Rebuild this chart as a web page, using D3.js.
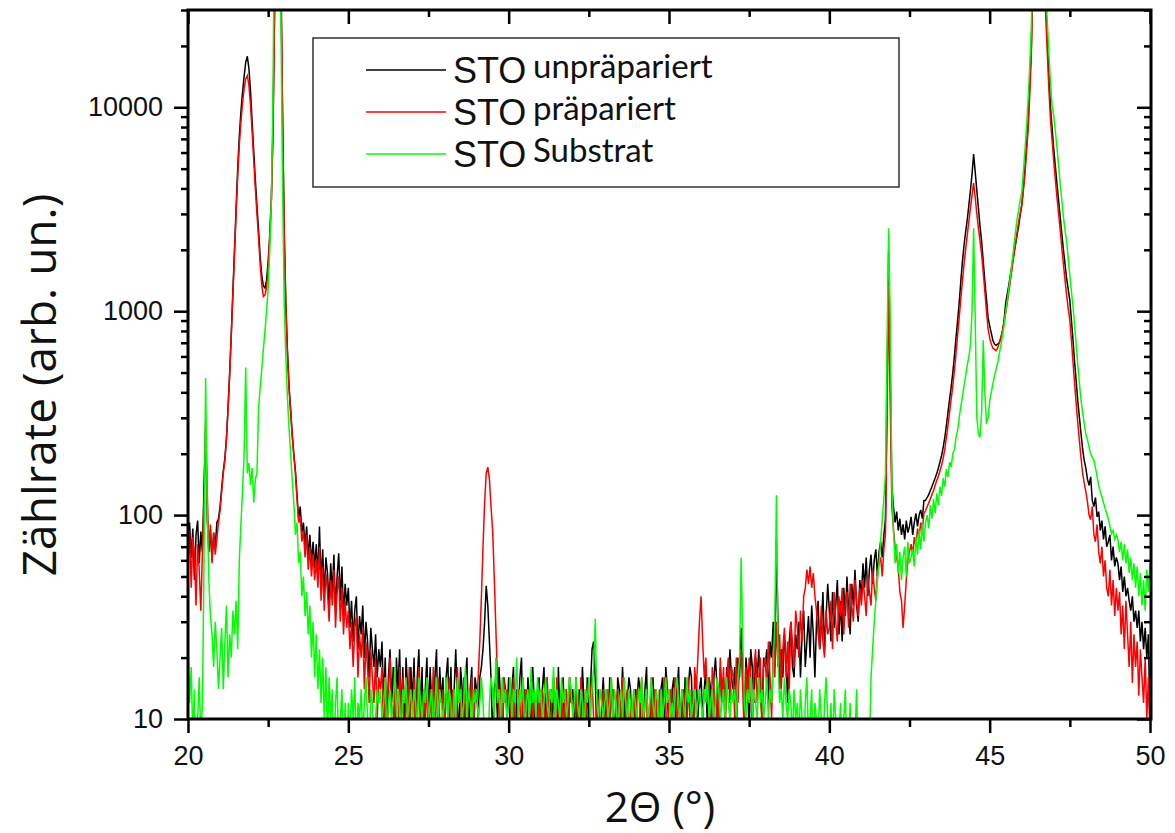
<!DOCTYPE html>
<html>
<head>
<meta charset="utf-8">
<script src="https://cdn.jsdelivr.net/npm/d3@7"></script>
<style>
  body { margin: 0; background: #fff; }
</style>
</head>
<body>
<div id="plot"></div>
<script>
// 2-theta scan, 20..50 deg, one reading every 0.05 deg
const angleStart = 20;
const angleStep = 0.05;

// STO unpräpariert (black)
const countsUnprepared = [
  55, 92, 62, 86, 48, 80, 94, 58, 83, 66, 140, 270, 95, 66, 84, 60, 82, 70, 92, 96,
  110, 135, 165, 190, 240, 340, 500, 780, 1250, 2000, 3200, 5000, 7200, 9500, 11800, 14200, 16600, 17800, 15500, 12000,
  8500, 6100, 4400, 3300, 2500, 1850, 1500, 1330, 1300, 1420, 1750, 2350, 3600, 7800, 30000, 200000, 400000, 100000, 40000, 9000,
  2500, 1100, 650, 430, 330, 250, 200, 165, 125, 96, 110, 82, 92, 70, 88, 62, 80, 58, 74, 55,
  72, 50, 88, 46, 68, 40, 62, 52, 36, 58, 42, 64, 34, 50, 65, 38, 56, 32, 46, 36,
  44, 28, 38, 24, 34, 40, 22, 32, 26, 36, 20, 30, 24, 16, 28, 22, 18, 26, 16, 22,
  18, 24, 12, 20, 8, 16, 22, 12, 18, 6, 20, 14, 22, 10, 18, 8, 20, 14, 6, 18,
  12, 20, 8, 16, 22, 10, 18, 6, 14, 20, 10, 18, 12, 6, 16, 22, 8, 18, 12, 16,
  8, 16, 20, 10, 18, 6, 14, 22, 12, 8, 18, 14, 6, 16, 20, 8, 14, 18, 6, 16,
  14, 10, 16, 18, 22, 30, 45, 36, 24, 16, 8, 14, 16, 10, 18, 12, 6, 16, 14, 10,
  16, 8, 14, 18, 6, 14, 10, 16, 20, 8, 14, 6, 16, 12, 8, 18, 12, 6, 14, 16,
  8, 14, 18, 10, 16, 6, 14, 10, 16, 12, 6, 18, 10, 14, 16, 8, 14, 6, 16, 12,
  14, 8, 16, 6, 14, 10, 18, 12, 6, 16, 10, 14, 22, 24, 16, 8, 14, 6, 12, 16,
  10, 14, 6, 16, 12, 14, 8, 6, 16, 14, 10, 18, 12, 6, 12, 16, 14, 8, 6, 14,
  12, 16, 14, 6, 10, 14, 18, 8, 6, 14, 16, 10, 14, 6, 12, 14, 16, 8, 18, 14,
  8, 6, 14, 16, 10, 14, 18, 8, 14, 6, 16, 10, 14, 18, 16, 8, 14, 16, 10, 14,
  16, 10, 14, 18, 8, 16, 14, 6, 16, 20, 14, 8, 18, 14, 16, 10, 18, 14, 22, 16,
  14, 18, 8, 20, 16, 28, 18, 10, 20, 16, 8, 22, 18, 12, 20, 16, 22, 14, 10, 20,
  18, 22, 12, 24, 20, 30, 18, 75, 28, 14, 22, 16, 26, 20, 12, 24, 30, 18, 16, 26,
  22, 30, 16, 26, 34, 18, 24, 32, 20, 36, 26, 16, 30, 38, 22, 28, 42, 22, 32, 46,
  34, 24, 42, 28, 36, 48, 26, 38, 24, 44, 32, 50, 34, 26, 46, 36, 54, 36, 30, 48,
  40, 58, 44, 62, 40, 54, 64, 46, 60, 68, 50, 66, 74, 62, 80, 95, 400, 1950, 500, 140,
  110, 92, 104, 84, 96, 80, 90, 76, 94, 82, 88, 98, 80, 92, 102, 88, 100, 106, 96, 118,
  118, 122, 126, 132, 138, 145, 152, 160, 170, 182, 196, 215, 240, 275, 320, 370, 425, 500, 600, 740,
  900, 1100, 1400, 1750, 2100, 2450, 2800, 3300, 3900, 4700, 5900, 4800, 3900, 3200, 2600, 2200, 1750, 1400, 1150, 930,
  850, 780, 720, 690, 680, 690, 700, 740, 800, 900, 1100, 1220, 1350, 1520, 1700, 1900, 2100, 2350, 2600, 2950,
  3300, 4000, 5000, 6500, 8500, 13000, 20000, 50000, 150000, 300000, 500000, 400000, 200000, 90000, 50000, 32000, 21000, 14000, 9800, 7800,
  6200, 5100, 4200, 3500, 2900, 2400, 2000, 1700, 1450, 1280, 1130, 900, 720, 560, 450, 360, 300, 250, 210, 185,
  170, 150, 140, 154, 118, 110, 122, 98, 104, 84, 94, 76, 88, 70, 74, 80, 60, 70, 56, 62,
  58, 48, 56, 42, 50, 40, 44, 38, 34, 40, 30, 34, 28, 34, 24, 30, 22, 28, 20, 26,
  9
];

// STO präpariert (red)
const countsPrepared = [
  62, 84, 44, 78, 64, 36, 72, 54, 34, 66, 120, 290, 130, 68, 90, 58, 82, 64, 76, 92,
  105, 130, 160, 185, 235, 330, 490, 760, 1200, 1900, 3000, 4600, 6500, 8500, 10400, 12300, 13800, 14300, 12800, 10200,
  7600, 5500, 4000, 3000, 2300, 1700, 1350, 1180, 1200, 1300, 1650, 2300, 3500, 7500, 30000, 200000, 400000, 100000, 40000, 9000,
  2400, 1050, 620, 420, 320, 245, 195, 160, 120, 92, 98, 74, 84, 62, 80, 54, 70, 50, 64, 48,
  60, 44, 70, 38, 56, 34, 52, 42, 30, 48, 36, 54, 28, 42, 50, 30, 44, 26, 38, 28,
  34, 22, 30, 18, 28, 32, 16, 26, 20, 28, 14, 24, 18, 12, 22, 16, 12, 20, 10, 16,
  14, 18, 8, 16, 6, 14, 20, 10, 6, 16, 12, 6, 18, 10, 16, 6, 14, 10, 18, 8,
  10, 16, 6, 14, 18, 10, 6, 14, 10, 16, 6, 14, 10, 18, 8, 14, 16, 10, 6, 14,
  8, 14, 12, 16, 6, 14, 10, 6, 18, 12, 14, 6, 16, 10, 6, 14, 12, 16, 8, 14,
  12, 16, 24, 40, 70, 115, 160, 172, 150, 110, 84, 50, 28, 16, 10, 14, 6, 16, 12, 14,
  12, 14, 6, 16, 10, 6, 14, 12, 8, 16, 10, 14, 6, 12, 16, 8, 14, 10, 6, 14,
  8, 14, 12, 6, 16, 10, 6, 14, 12, 8, 16, 10, 6, 14, 8, 12, 14, 6, 16, 12,
  12, 6, 14, 10, 6, 16, 12, 8, 14, 10, 6, 14, 16, 10, 6, 14, 12, 6, 10, 14,
  8, 12, 14, 6, 16, 10, 6, 12, 14, 8, 12, 16, 6, 12, 14, 6, 12, 8, 14, 10,
  14, 6, 12, 16, 8, 12, 14, 6, 10, 16, 8, 14, 12, 6, 14, 10, 8, 16, 12, 6,
  12, 14, 6, 12, 16, 8, 14, 10, 6, 14, 12, 8, 16, 10, 14, 6, 18, 14, 20, 30,
  40, 24, 16, 20, 12, 16, 8, 18, 14, 6, 16, 10, 20, 12, 18, 8, 16, 20, 12, 18,
  16, 10, 20, 12, 18, 22, 14, 8, 18, 12, 20, 16, 8, 18, 22, 12, 16, 20, 8, 18,
  20, 14, 24, 16, 10, 22, 16, 30, 18, 26, 14, 22, 28, 16, 24, 14, 30, 24, 18, 34,
  28, 20, 34, 24, 40, 44, 54, 46, 56, 44, 52, 40, 34, 26, 22, 36, 24, 20, 34, 26,
  28, 38, 22, 42, 30, 24, 40, 32, 44, 26, 38, 42, 28, 46, 36, 30, 48, 38, 32, 44,
  36, 48, 40, 32, 50, 42, 36, 54, 44, 38, 52, 58, 62, 50, 68, 80, 300, 1340, 350, 110,
  85, 70, 62, 55, 42, 38, 28, 36, 48, 60, 66, 72, 64, 78, 70, 86, 78, 92, 84, 102,
  105, 110, 115, 120, 126, 132, 140, 148, 155, 165, 175, 190, 210, 240, 275, 320, 370, 430, 510, 620,
  760, 930, 1150, 1400, 1700, 2000, 2350, 2750, 3200, 3700, 4250, 3600, 3000, 2550, 2200, 1900, 1550, 1250, 1000, 820,
  740, 690, 660, 650, 640, 660, 700, 740, 800, 880, 980, 1100, 1250, 1420, 1620, 1850, 2100, 2400, 2700, 3000,
  3300, 3900, 4700, 6000, 7800, 11500, 18000, 45000, 140000, 300000, 500000, 400000, 200000, 85000, 45000, 28000, 18000, 12000, 8500, 6800,
  5400, 4400, 3600, 3000, 2500, 2050, 1700, 1420, 1200, 1030, 900, 720, 560, 440, 350, 280, 230, 190, 160, 143,
  130, 116, 100, 95, 110, 80, 74, 90, 66, 58, 70, 50, 60, 44, 40, 54, 36, 48, 32, 44,
  34, 42, 26, 36, 22, 38, 26, 18, 30, 15, 26, 18, 24, 13, 22, 16, 12, 20, 10, 16,
  8
];

// STO Substrat (green)
const countsSubstrate = [
  24, 12, 18, 8, 14, 6, 10, 16, 8, 12, 60, 470, 110, 48, 32, 26, 18, 30, 22, 14,
  20, 28, 14, 24, 36, 16, 26, 20, 34, 26, 38, 22, 60, 90, 130, 200, 530, 160, 180, 140,
  170, 115, 150, 160, 330, 420, 520, 650, 800, 1000, 1300, 2000, 3500, 12000, 100000, 500000, 600000, 150000, 25000, 4000,
  1100, 600, 380, 270, 200, 150, 115, 80, 92, 58, 66, 40, 50, 32, 42, 26, 36, 20, 30, 16,
  26, 14, 22, 12, 20, 10, 18, 8, 16, 10, 14, 6, 12, 16, 6, 10, 14, 6, 12, 6,
  12, 8, 14, 10, 16, 6, 12, 10, 14, 8, 12, 16, 10, 6, 14, 12, 8, 10, 14, 12,
  14, 10, 12, 16, 8, 12, 14, 10, 12, 18, 10, 14, 12, 8, 14, 12, 16, 10, 12, 14,
  10, 14, 12, 8, 16, 12, 10, 14, 12, 16, 10, 12, 14, 8, 12, 16, 10, 14, 12, 10,
  12, 16, 10, 14, 12, 8, 14, 10, 16, 12, 14, 10, 12, 18, 10, 14, 12, 8, 14, 12,
  14, 10, 12, 16, 12, 8, 10, 6, 12, 16, 14, 10, 20, 12, 14, 10, 16, 12, 14, 10,
  12, 16, 10, 14, 12, 20, 10, 14, 12, 16, 8, 12, 14, 10, 18, 12, 14, 10, 16, 12,
  14, 10, 12, 16, 12, 10, 14, 12, 18, 10, 14, 12, 10, 16, 12, 14, 10, 12, 16, 14,
  10, 12, 16, 12, 10, 14, 12, 8, 14, 12, 16, 10, 14, 18, 31, 12, 10, 14, 12, 10,
  12, 14, 10, 12, 16, 10, 14, 12, 8, 12, 14, 10, 16, 12, 10, 14, 12, 10, 14, 12,
  10, 14, 12, 16, 10, 12, 14, 10, 12, 16, 12, 10, 14, 12, 8, 14, 10, 12, 16, 12,
  14, 10, 12, 10, 14, 16, 12, 10, 14, 12, 10, 16, 12, 14, 10, 12, 14, 10, 12, 14,
  12, 10, 14, 12, 16, 10, 12, 14, 10, 12, 16, 14, 10, 12, 14, 10, 16, 12, 10, 14,
  12, 14, 10, 16, 20, 62, 24, 12, 10, 14, 12, 16, 10, 14, 12, 10, 16, 12, 14, 10,
  12, 16, 10, 14, 12, 18, 30, 125, 20, 12, 14, 10, 16, 12, 10, 14, 12, 8, 14, 10,
  12, 8, 14, 10, 6, 12, 16, 8, 10, 14, 6, 12, 10, 8, 14, 10, 6, 12, 16, 10,
  8, 12, 6, 14, 10, 6, 8, 12, 6, 10, 14, 6, 8, 12, 6, 10, 8, 14, 6, 8,
  6, 8, 6, 9, 8, 7, 16, 22, 30, 38, 48, 58, 75, 95, 120, 160, 700, 2550, 900, 140,
  84, 58, 72, 52, 66, 48, 62, 70, 50, 74, 58, 62, 68, 56, 78, 64, 84, 68, 90, 74,
  92, 100, 86, 112, 96, 120, 102, 128, 112, 138, 124, 152, 138, 168, 154, 182, 172, 200, 210, 240,
  260, 300, 340, 380, 430, 480, 540, 600, 680, 1000, 2550, 900, 300, 250, 240, 320, 720, 400, 280, 300,
  360, 400, 440, 480, 520, 560, 620, 680, 760, 850, 1000, 1130, 1300, 1500, 1750, 2050, 2400, 2800, 3100, 3500,
  3800, 4800, 6200, 8000, 11000, 16000, 25000, 60000, 150000, 300000, 500000, 400000, 250000, 120000, 60000, 38000, 26000, 18000, 13000, 10000,
  9000, 7600, 6300, 5200, 4200, 3500, 2900, 2500, 2200, 1800, 1500, 1250, 1050, 850, 680, 540, 440, 366, 320, 280,
  250, 235, 215, 200, 192, 186, 170, 155, 140, 130, 123, 115, 108, 102, 96, 88, 81, 84, 76, 80,
  76, 66, 74, 60, 72, 58, 68, 52, 62, 48, 58, 44, 56, 40, 52, 36, 48, 34, 54, 42,
  58
];

const seriesNames = ["STO unpräpariert", "STO präpariert", "STO Substrat"];
const seriesColors = ["#000000", "#ff0000", "#00ff00"];
const xTicks = [20, 25, 30, 35, 40, 45, 50];
const xMinorTicks = [22.5, 27.5, 32.5, 37.5, 42.5, 47.5];
const yTicks = [10, 100, 1000, 10000];

const width = 1175, height = 833;
const svg = d3.select("#plot")
              .append("svg")
              .attr("width", width)
              .attr("height", height)
              .style("background-color", "white");

const xScale = d3.scaleLinear().domain([20, 50]).range([188, 1150]);
const yScale = d3.scaleLog().domain([10, 30000]).range([719, 10]);

const yMinorTicks = [];
yTicks.forEach(dec => {
  for (let k = 2; k <= 9; k++) if (dec * k <= 30000) yMinorTicks.push(dec * k);
});

// clip
svg.append("clipPath").attr("id", "plot-area")
   .append("rect")
   .attr("x", 188).attr("y", 10)
   .attr("width", 963).attr("height", 709);

const allSeries = [countsUnprepared, countsPrepared, countsSubstrate].map(counts =>
  counts.map((c, i) => ({ t: angleStart + i * angleStep, c: c })));

const line = d3.line()
               .x(d => xScale(d.t))
               .y(d => yScale(Math.max(d.c, 1)));

svg.append("g")
   .attr("clip-path", "url(#plot-area)")
   .selectAll("path.trace")
   .data(allSeries)
   .enter()
   .append("path")
   .attr("class", "trace")
   .attr("d", line)
   .attr("fill", "none")
   .attr("stroke", (d, i) => seriesColors[i])
   .attr("stroke-width", 1.5)
   .attr("stroke-linejoin", "miter");

// axes
const tickFont = "'Liberation Sans', Arial, sans-serif";
function styleAxis(g) {
  g.select(".domain").remove();
  g.selectAll(".tick line").attr("stroke", "#000").attr("stroke-width", 2.5);
  g.selectAll("text")
   .attr("font-family", tickFont)
   .attr("font-size", "27px")
   .attr("fill", "#111");
}

svg.append("g")
   .attr("transform", "translate(0,719)")
   .call(d3.axisBottom(xScale).tickValues(xTicks).tickSize(14).tickPadding(13).tickFormat(d3.format("d")))
   .call(styleAxis);
svg.append("g")
   .attr("transform", "translate(0,719)")
   .call(d3.axisBottom(xScale).tickValues(xMinorTicks).tickSize(8).tickFormat(""))
   .call(styleAxis);
svg.append("g")
   .attr("transform", "translate(0,10)")
   .call(d3.axisTop(xScale).tickValues(xTicks).tickSize(-14).tickFormat(""))
   .call(styleAxis);
svg.append("g")
   .attr("transform", "translate(0,10)")
   .call(d3.axisTop(xScale).tickValues(xMinorTicks).tickSize(-7).tickFormat(""))
   .call(styleAxis);

svg.append("g")
   .attr("transform", "translate(188,0)")
   .call(d3.axisLeft(yScale).tickValues(yTicks).tickSize(14).tickPadding(11).tickFormat(d3.format("d")))
   .call(styleAxis);
svg.append("g")
   .attr("transform", "translate(188,0)")
   .call(d3.axisLeft(yScale).tickValues(yMinorTicks).tickSize(7).tickFormat(""))
   .call(styleAxis);
svg.append("g")
   .attr("transform", "translate(1151,0)")
   .call(d3.axisRight(yScale).tickValues(yTicks).tickSize(-14).tickFormat(""))
   .call(styleAxis);
svg.append("g")
   .attr("transform", "translate(1151,0)")
   .call(d3.axisRight(yScale).tickValues(yMinorTicks).tickSize(-7).tickFormat(""))
   .call(styleAxis);

// frame
svg.append("rect")
   .attr("x", 188).attr("y", 10)
   .attr("width", 963).attr("height", 709)
   .attr("fill", "none")
   .attr("stroke", "#000")
   .attr("stroke-width", 3);

// axis titles
svg.append("text")
   .attr("x", 660)
   .attr("y", 822)
   .attr("text-anchor", "middle")
   .attr("font-family", "'Open Sans', sans-serif")
   .attr("font-size", "42px")
   .attr("fill", "#111")
   .text("2Θ (°)");
svg.append("text")
   .attr("transform", "translate(56,385) rotate(-90)")
   .attr("text-anchor", "middle")
   .attr("font-family", "'Open Sans', sans-serif")
   .attr("font-size", "46px")
   .attr("fill", "#111")
   .text("Zählrate (arb. un.)");

// legend
const legend = svg.append("g");
legend.append("rect")
      .attr("x", 313).attr("y", 38)
      .attr("width", 586).attr("height", 149)
      .attr("fill", "white")
      .attr("stroke", "#333")
      .attr("stroke-width", 1.5);
const legendY = [70, 112, 154];
seriesNames.forEach((name, i) => {
  legend.append("line")
        .attr("x1", 366).attr("x2", 446)
        .attr("y1", legendY[i]).attr("y2", legendY[i])
        .attr("stroke", seriesColors[i])
        .attr("stroke-width", 1.5);
  legend.append("text")
        .attr("x", 453).attr("y", legendY[i] + 13)
        .attr("font-family", tickFont)
        .attr("font-size", "36px")
        .attr("fill", "#111")
        .text(name.slice(0, 3));
  legend.append("text")
        .attr("x", 533).attr("y", legendY[i] + 8)
        .attr("font-family", "Lato, sans-serif")
        .attr("font-size", "33px")
        .attr("fill", "#111")
        .text(name.slice(4));
});
</script>
</body>
</html>
